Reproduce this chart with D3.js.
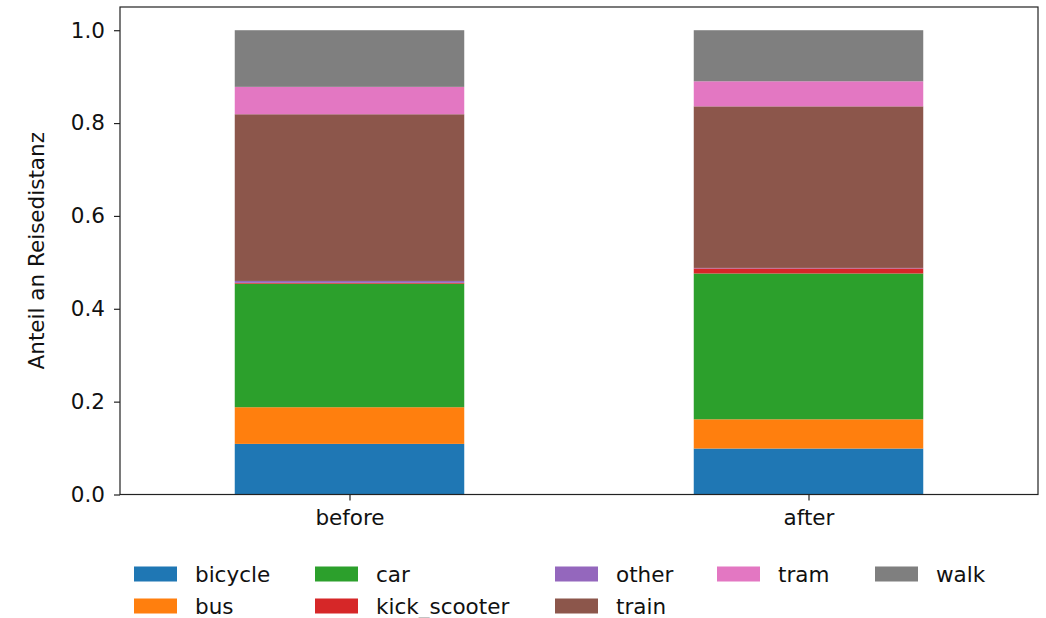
<!DOCTYPE html>
<html>
<head>
<meta charset="utf-8">
<script src="https://cdn.jsdelivr.net/npm/d3@7"></script>
<style>
  html, body { margin: 0; padding: 0; background: #fff; }
  svg { display: block; font-family: "DejaVu Sans", sans-serif; }
</style>
</head>
<body>
<svg id="chart" width="1046" height="618"></svg>
<script>
// Phases compared on the x axis
const periods = ["before", "after"];

// Travel modes, stacked bottom to top
const modes = ["bicycle", "bus", "car", "kick_scooter", "other", "train", "tram", "walk"];

// Share of travel distance per mode, one value per period
const bicycle      = [0.109, 0.099];
const bus          = [0.079, 0.063];
const car          = [0.266, 0.314];
const kick_scooter = [0.002, 0.011];
const other        = [0.004, 0.001];
const train        = [0.359, 0.348];
const tram         = [0.059, 0.054];
const walk         = [0.122, 0.110];

const yTicks = [0.0, 0.2, 0.4, 0.6, 0.8, 1.0];

const modeColors = ["#1f77b4", "#ff7f0e", "#2ca02c", "#d62728", "#9467bd", "#8c564b", "#e377c2", "#7f7f7f"];

const seriesByMode = { bicycle, bus, car, kick_scooter, other, train, tram, walk };

const rows = periods.map((p, i) => {
  const r = { period: p };
  modes.forEach(m => { r[m] = seriesByMode[m][i]; });
  return r;
});

const svg = d3.select("#chart");
const plotLeft = 120, plotRight = 1038, plotTop = 7, plotBottom = 494.5;
const fontSize = 21.5;

// Category positions 0 and 1 on a linear axis spanning -0.5..1.5, bars 0.5 wide
const x = d3.scaleLinear().domain([-0.5, 1.5]).range([plotLeft, plotRight]);
const y = d3.scaleLinear().domain([0, 1.05]).range([plotBottom, plotTop]);
const color = d3.scaleOrdinal().domain(modes).range(modeColors);
const barW = 0.5;

const stack = d3.stack().keys(modes)(rows);

const g = svg.append("g");
stack.forEach(layer => {
  g.selectAll(null)
    .data(layer)
    .join("rect")
    .attr("x", (d, i) => x(i - barW / 2))
    .attr("width", x(barW) - x(0))
    .attr("y", d => y(d[1]))
    .attr("height", d => y(d[0]) - y(d[1]))
    .attr("fill", color(layer.key));
});

// Y axis
const yAxis = svg.append("g")
  .attr("transform", `translate(${plotLeft},0)`)
  .call(d3.axisLeft(y).tickValues(yTicks).tickFormat(d3.format(".1f")).tickSize(6).tickPadding(9));
yAxis.select(".domain").remove();
yAxis.selectAll(".tick line").attr("stroke", "#222").attr("stroke-width", 1.2);
yAxis.selectAll(".tick text").attr("font-size", fontSize).attr("fill", "#111")
  .attr("font-family", "DejaVu Sans, sans-serif");

// X axis
const xAxis = svg.append("g")
  .attr("transform", `translate(0,${plotBottom})`)
  .call(d3.axisBottom(x).tickValues([0, 1]).tickFormat(i => periods[i]).tickSize(6).tickPadding(9));
xAxis.select(".domain").remove();
xAxis.selectAll(".tick line").attr("stroke", "#222").attr("stroke-width", 1.2);
xAxis.selectAll(".tick text").attr("font-size", fontSize).attr("fill", "#111")
  .attr("font-family", "DejaVu Sans, sans-serif");

// Frame around the plot area
svg.append("rect")
  .attr("x", plotLeft).attr("y", plotTop)
  .attr("width", plotRight - plotLeft).attr("height", plotBottom - plotTop)
  .attr("fill", "none").attr("stroke", "#222").attr("stroke-width", 1.2);

// Y axis title
svg.append("text")
  .attr("transform", `translate(44,${(plotTop + plotBottom) / 2}) rotate(-90)`)
  .attr("text-anchor", "middle")
  .attr("font-size", fontSize)
  .attr("fill", "#111")
  .text("Anteil an Reisedistanz");

// Legend: 5 columns holding 2, 2, 2, 1, 1 entries, filled column by column
const colX = [134, 315, 555, 717, 875];
const rowY = [574, 606];
const colSizes = [2, 2, 2, 1, 1];
const slots = [];
colSizes.forEach((n, c) => { for (let r = 0; r < n; r++) slots.push([c, r]); });
const legend = svg.append("g");
modes.forEach((m, i) => {
  const [col, row] = slots[i];
  const lg = legend.append("g").attr("transform", `translate(${colX[col]},${rowY[row]})`);
  lg.append("rect").attr("x", 0).attr("y", -7.5).attr("width", 43).attr("height", 15).attr("fill", color(m));
  lg.append("text").attr("x", 61).attr("y", 0).attr("dy", "0.35em")
    .attr("font-size", fontSize).attr("fill", "#111").text(m);
});
</script>
</body>
</html>
